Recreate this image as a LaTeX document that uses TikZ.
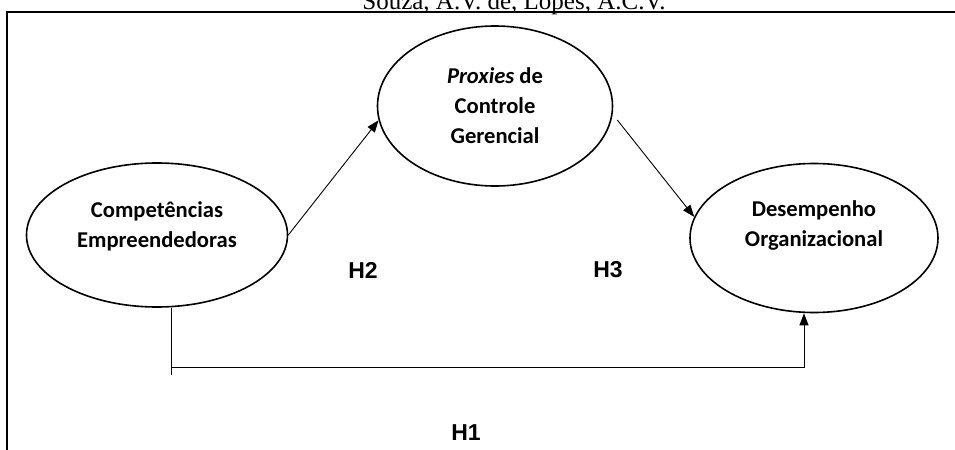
\documentclass[tikz,border=0pt]{standalone}
\usepackage{fontspec}
\setmainfont{Liberation Serif}
\newfontfamily\carlito{Carlito}
\newfontfamily\arialfont{Liberation Sans}
\usetikzlibrary{shapes.geometric,arrows.meta}

\begin{document}
\begin{tikzpicture}[x=0.5pt,y=-0.5pt,
    construct/.style={ellipse,draw,line width=0.8pt,inner sep=0pt},
    constructtext/.style={font=\carlito\bfseries\fontsize{11.3}{15}\selectfont,align=center},
    relation/.style={line width=0.45pt,-{Triangle[length=6pt,width=4.5pt]}},
    hyp/.style={font=\arialfont\bfseries\fontsize{11.5}{13}\selectfont}]
    \useasboundingbox (0,0) rectangle (955,450);
    \clip (0,0) rectangle (955,450);
    % running head of the page, cut at the top
    \node[anchor=base,font=\fontsize{12.5}{14}\selectfont] (head) at (514,9) {Souza, A.V. de, Lopes, A.C.V.};
    \draw[line width=1pt] (955,11.5) -- (7,11.5) -- (7,450);
    % constructs
    \node[construct,minimum width=130.5pt,minimum height=72pt,
      label={[constructtext,yshift=4.5pt]center:{Competências\\Empreendedoras}}] (comp) at (157,235) {};
    \node[construct,minimum width=117.5pt,minimum height=80pt,
      label={[constructtext]center:{{\itshape Proxies} de\\Controle\\Gerencial}}] (prox) at (495,106) {};
    \node[construct,minimum width=124pt,minimum height=74.5pt,
      label={[constructtext,yshift=6.5pt]center:{Desempenho\\Organizacional}}] (desemp) at (814,238) {};
    % hypotheses
    \draw[relation] (comp.east) -- (prox.187);
    \draw[relation] ([xshift=2pt,yshift=-7pt]prox.east) -- (desemp.170);
    \coordinate (h1start) at ([xshift=7pt]comp.south);
    \coordinate (h1corner) at (h1start |- 0,367);
    \draw[line width=0.45pt] (h1start) -- ([yshift=-4pt]h1corner);
    \draw[relation] (h1corner) -| ([xshift=-5pt]desemp.south);
    \node[hyp] (h2) at (363,270) {H2};
    \node[hyp] (h3) at (608,270) {H3};
    \node[hyp] (h1) at (466,433) {H1};
\end{tikzpicture}
\end{document}
